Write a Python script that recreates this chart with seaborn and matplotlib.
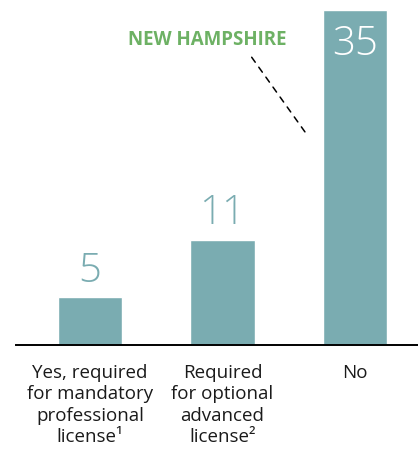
import matplotlib
matplotlib.use("Agg")
import matplotlib.pyplot as plt
import seaborn as sns
import pandas as pd

categories = [
    "Yes, required\nfor mandatory\nprofessional\nlicense\u00b9",
    "Required\nfor optional\nadvanced\nlicense\u00b2",
    "No",
]
values = [5, 11, 35]
callout = "NEW HAMPSHIRE"

bar_color = "#7aacb1"
green = "#6db164"

sns.set_theme(style="white")
plt.rcParams["font.family"] = ["Open Sans", "DejaVu Sans"]

df = pd.DataFrame({"category": categories, "value": values})

fig = plt.figure(figsize=(4.18, 4.55), dpi=100)
ax = fig.add_axes([16 / 418, 110 / 455, 402 / 418, 345 / 455])

sns.barplot(data=df, x="category", y="value", color=bar_color,
            saturation=1, width=0.483, ax=ax)

ax.set_xlim(-0.558, 2.475)
ax.set_ylim(0, 35 * 345 / 335)
ax.set_xlabel("")
ax.set_ylabel("")
ax.set_yticks([])
for side in ["top", "right", "left"]:
    ax.spines[side].set_visible(False)
ax.spines["bottom"].set_color("black")
ax.spines["bottom"].set_linewidth(1.4)
ax.tick_params(axis="x", length=0, pad=13.5, labelsize=13.5, colors="#1a1a1a")
for lbl in ax.get_xticklabels():
    lbl.set_linespacing(1.25)

# value labels: above the shorter bars, inside the tallest one
top = max(values)
for i, v in enumerate(values):
    if v == top:
        ax.annotate(str(v), (i, v), xytext=(0, -10), textcoords="offset points",
                    ha="center", va="top", fontsize=29, color="white",
                    fontweight="light")
    else:
        ax.annotate(str(v), (i, v), xytext=(0, 4), textcoords="offset points",
                    ha="center", va="bottom", fontsize=29, color=bar_color,
                    fontweight="light")

# callout for the tallest bar
ax.text(0.883, 31.9, callout, ha="center", va="center",
        fontsize=13.5, fontweight="bold", color=green)
ax.annotate("", xy=(1.646, 21.8), xytext=(1.208, 30.3),
            arrowprops=dict(arrowstyle="-", linestyle=(0, (4, 4)),
                            color="black", lw=1.1))

fig.savefig("out.png", dpi=100)
